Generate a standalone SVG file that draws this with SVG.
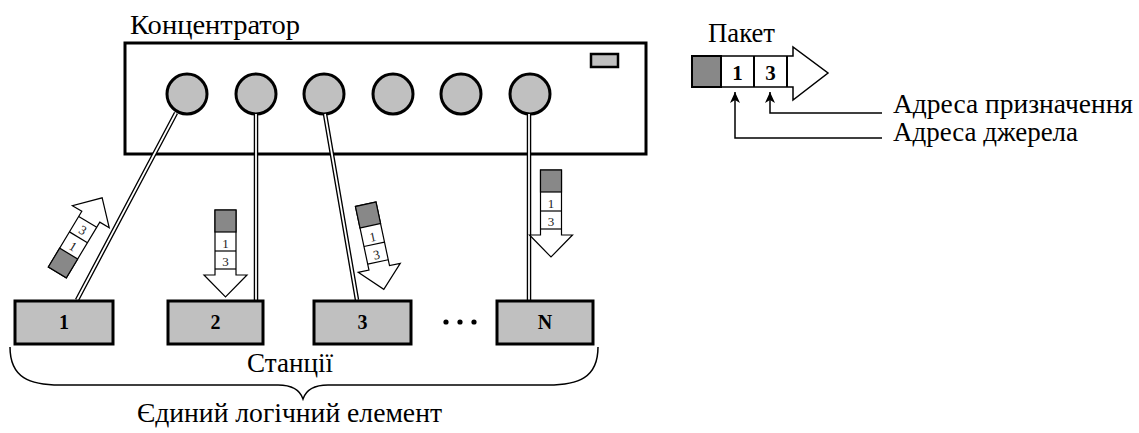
<svg xmlns="http://www.w3.org/2000/svg" width="1139" height="433" viewBox="0 0 1139 433">
<style>
.lbl{font-family:"Liberation Serif","Times New Roman",serif;font-size:27px;fill:#000}
.num{font-family:"Liberation Serif","Times New Roman",serif;font-weight:bold;font-size:20px;text-anchor:middle;fill:#000}
.pn{font-family:"Liberation Serif","Times New Roman",serif;font-size:13px;text-anchor:middle;fill:#222}
.box{fill:#c0c0c0;stroke:#000;stroke-width:3}
.port{fill:#c0c0c0;stroke:#000;stroke-width:3}
.cab-o{stroke:#000;stroke-width:4.5;fill:none}
.cab-i{stroke:#fff;stroke-width:1.8;fill:none}
.pk{fill:#fff;stroke:#000;stroke-width:1.2}
.pg{fill:#888;stroke:#000;stroke-width:1.2}
.thin{stroke:#000;stroke-width:1.2;fill:none}
.ptr{stroke:#000;stroke-width:1.5;fill:none}
</style>
<defs>
<marker id="ah" markerUnits="userSpaceOnUse" markerWidth="12" markerHeight="12" refX="11" refY="6" orient="auto"><path d="M0,1 L11,6 L0,11 L3,6 z" fill="#000"/></marker>
<g id="pdown">
<polygon class="pk" points="-10.5,-11 10.5,-11 10.5,54 21.5,54 0,76 -21.5,54 -10.5,54"/>
<rect class="pg" x="-10.5" y="-11" width="21" height="22"/>
<line class="thin" x1="-10.5" y1="30" x2="10.5" y2="30"/>
<line class="thin" x1="-10.5" y1="48" x2="10.5" y2="48"/>
<text class="pn" x="0" y="27">1</text>
<text class="pn" x="0" y="45">3</text>
</g>
<g id="pup">
<polygon class="pk" points="-10.5,11 10.5,11 10.5,-54 21.5,-54 0,-76 -21.5,-54 -10.5,-54"/>
<rect class="pg" x="-10.5" y="-11" width="21" height="22"/>
<line class="thin" x1="-10.5" y1="-30" x2="10.5" y2="-30"/>
<line class="thin" x1="-10.5" y1="-48" x2="10.5" y2="-48"/>
<text class="pn" x="0" y="-15">1</text>
<text class="pn" x="0" y="-34">3</text>
</g>
</defs>

<g id="hub">
<text class="lbl" x="130" y="34" textLength="170" lengthAdjust="spacingAndGlyphs">Концентратор</text>
<rect x="125" y="43" width="521" height="111" fill="#fff" stroke="#000" stroke-width="3"/>
<rect x="591" y="54" width="27" height="13" fill="#c0c0c0" stroke="#000" stroke-width="2.5"/>
<circle class="port" cx="187" cy="94" r="20"/>
<circle class="port" cx="256" cy="94" r="20"/>
<circle class="port" cx="324" cy="94" r="20"/>
<circle class="port" cx="393" cy="94" r="20"/>
<circle class="port" cx="461" cy="94" r="20"/>
<circle class="port" cx="530" cy="94" r="20"/>
</g>

<g id="connectors">
<path class="cab-o" d="M176,113 L77,300 M256,114 V300 M325,114 L357,300 M529,114 V300"/>
<path class="cab-i" d="M176,113 L77,300 M256,114 V300 M325,114 L357,300 M529,114 V300"/>
</g>

<g id="station1">
<rect class="box" x="15" y="301" width="98" height="43"/>
<text class="num" x="64" y="329">1</text>
</g>
<g id="station2">
<rect class="box" x="168" y="301" width="95" height="43"/>
<text class="num" x="215.5" y="329">2</text>
</g>
<g id="station3">
<rect class="box" x="314" y="301" width="97" height="43"/>
<text class="num" x="362.5" y="329">3</text>
</g>
<g id="dots">
<circle cx="446" cy="322" r="2.6" fill="#000"/>
<circle cx="460" cy="322" r="2.6" fill="#000"/>
<circle cx="474" cy="322" r="2.6" fill="#000"/>
</g>
<g id="stationN">
<rect class="box" x="497" y="301" width="96" height="43"/>
<text class="num" x="545" y="329">N</text>
</g>

<g id="packets">
<use href="#pup" transform="translate(63,263) rotate(31)"/>
<use href="#pdown" transform="translate(225.5,221)"/>
<use href="#pdown" transform="translate(368,215) rotate(-12)"/>
<use href="#pdown" transform="translate(551,181)"/>
</g>

<g id="packet-legend">
<text class="lbl" x="708" y="42" textLength="67" lengthAdjust="spacingAndGlyphs">Пакет</text>
<polygon points="692,56 793,56 793,47 828,73 793,100 793,87 692,87" fill="#fff" stroke="#000" stroke-width="1.5"/>
<rect x="692" y="56" width="29" height="31" fill="#888" stroke="#000" stroke-width="2"/>
<path d="M721,56 V87 M754,56 V87 M787,56 V87" stroke="#000" stroke-width="2"/>
<text x="737.5" y="80" font-family="'Liberation Serif','Times New Roman',serif" font-weight="bold" font-size="21" text-anchor="middle">1</text>
<text x="770.5" y="80" font-family="'Liberation Serif','Times New Roman',serif" font-weight="bold" font-size="21" text-anchor="middle">3</text>
<path class="ptr" d="M882,113 H770 V92" marker-end="url(#ah)"/>
<path class="ptr" d="M882,138 H735 V92" marker-end="url(#ah)"/>
<text class="lbl" x="893" y="113" textLength="240" lengthAdjust="spacingAndGlyphs">Адреса призначення</text>
<text class="lbl" x="893" y="141" textLength="185" lengthAdjust="spacingAndGlyphs">Адреса джерела</text>
</g>

<g id="grouping">
<path d="M10,347 C10,378 30,385 60,385 L278,385 C293,385 300,390 303,399 C306,390 313,385 328,385 L548,385 C578,385 598,378 598,347" fill="none" stroke="#000" stroke-width="1.5"/>
<text class="lbl" x="247" y="372" textLength="86" lengthAdjust="spacingAndGlyphs">Станції</text>
<text class="lbl" x="137" y="422" textLength="305" lengthAdjust="spacingAndGlyphs">Єдиний логічний елемент</text>
</g>
</svg>
